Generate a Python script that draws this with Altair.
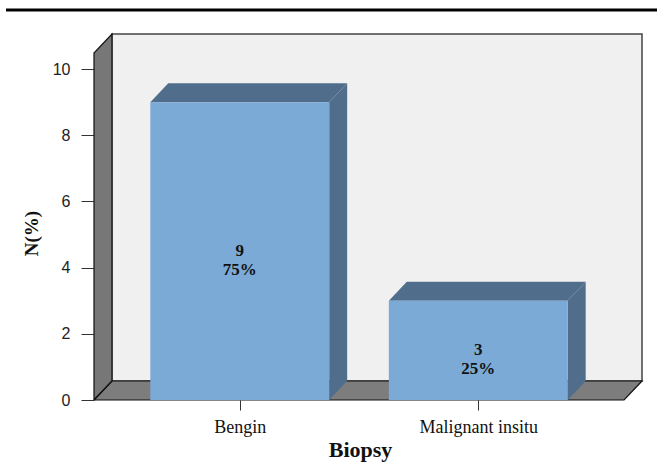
import altair as alt
import pandas as pd

# ---- data ----
categories = ["Bengin", "Malignant insitu"]
counts = [9, 3]
percents = ["75%", "25%"]
y_ticks = [0, 2, 4, 6, 8, 10]

# ---- 3D styling constants (in data units) ----
BAR_HALF = 0.375
DX = 0.0753
DY = 0.574
X_LO = 0.389
X_HI = 2.611
Y_TOP = 11.06

SERIF = "Liberation Serif, Times New Roman, serif"

pos = [i + 1 for i in range(len(categories))]

wall = pd.DataFrame({"x": [X_LO + DX], "x2": [X_HI + DX], "y": [DY], "y2": [Y_TOP]})
floor = pd.DataFrame({"g": ["f"] * 4, "x": [X_LO, X_LO + DX, X_HI, X_HI + DX],
                      "y": [0, 0, 0, DY], "y2": [0, DY, DY, DY]})
left = pd.DataFrame({"g": ["l"] * 2, "x": [X_LO, X_LO + DX], "y": [0, DY],
                     "y2": [Y_TOP - DY, Y_TOP]})

side_rows, top_rows, front_rows, text_rows = [], [], [], []
for c, v, p, cat in zip(pos, counts, percents, categories):
    side_rows += [
        {"g": cat, "x": c + BAR_HALF, "y": 0, "y2": v},
        {"g": cat, "x": c + BAR_HALF + DX, "y": DY, "y2": v + DY},
    ]
    top_rows += [
        {"g": cat, "x": c - BAR_HALF, "y": v, "y2": v},
        {"g": cat, "x": c - BAR_HALF + DX, "y": v, "y2": v + DY},
        {"g": cat, "x": c + BAR_HALF, "y": v, "y2": v + DY},
        {"g": cat, "x": c + BAR_HALF + DX, "y": v + DY, "y2": v + DY},
    ]
    front_rows.append({"g": cat, "x": c - BAR_HALF, "x2": c + BAR_HALF, "y": 0, "y2": v})
    text_rows.append({"x": c, "y": v / 2, "label": f"{v}\n{p}"})

side = pd.DataFrame(side_rows)
top = pd.DataFrame(top_rows)
front = pd.DataFrame(front_rows)
texts = pd.DataFrame(text_rows)

# outline of floor and left wall as closed polylines
floor_outline = pd.DataFrame({
    "g": ["f"] * 5, "i": [0, 1, 2, 3, 4],
    "x": [X_LO, X_LO + DX, X_HI + DX, X_HI, X_LO],
    "y": [0, DY, DY, 0, 0]})
left_outline = pd.DataFrame({
    "g": ["l"] * 5, "i": [0, 1, 2, 3, 4],
    "x": [X_LO, X_LO, X_LO + DX, X_LO + DX, X_LO],
    "y": [0, Y_TOP - DY, Y_TOP, DY, 0]})

label_expr = " : ".join(
    [f"datum.value == {c} ? '{cat}'" for c, cat in zip(pos[:-1], categories[:-1])]
    + [f"'{categories[-1]}'"]
)

xscale = alt.Scale(domain=[X_LO, X_HI + DX], nice=False, zero=False)
yscale = alt.Scale(domain=[0, Y_TOP], nice=False, zero=True)

xaxis = alt.Axis(values=pos, labelExpr=label_expr, title="Biopsy",
                 tickSize=10, tickColor="#333", domain=False, grid=False,
                 labelFont=SERIF, labelFontSize=18, labelColor="#111",
                 labelBaseline="alphabetic", labelPadding=22, labelFlush=False,
                 titleFont=SERIF, titleFontSize=22, titleFontWeight="bold",
                 titleColor="#111", titleX=266, titleY=56, titleBaseline="alphabetic",
                 titleAlign="center")
yaxis = alt.Axis(values=y_ticks, title="N(%)", tickSize=13, tickColor="#333",
                 domain=False, grid=False, labelPadding=11,
                 labelFont="Liberation Sans", labelFontSize=16, labelColor="#222",
                 titleFont=SERIF, titleFontSize=19, titleFontWeight="bold",
                 titleColor="#111", titleAngle=270, titleX=-63, titleY=199,
                 titleAlign="center", titleBaseline="middle")

X = alt.X("x:Q", scale=xscale, axis=xaxis)
Y = alt.Y("y:Q", scale=yscale, axis=yaxis)

wall_l = alt.Chart(wall).mark_rect(fill="#f0f0f0", stroke="#444", strokeWidth=1.5).encode(
    x=X, x2="x2:Q", y=Y, y2="y2:Q")
floor_l = alt.Chart(floor).mark_area(color="#7d7d7d").encode(
    x=X, y=Y, y2="y2:Q", detail="g:N")
left_l = alt.Chart(left).mark_area(color="#777777").encode(
    x=X, y=Y, y2="y2:Q", detail="g:N")
floor_o = alt.Chart(floor_outline).mark_line(color="#111", strokeWidth=1.2).encode(
    x=X, y=Y, detail="g:N", order="i:Q")
left_o = alt.Chart(left_outline).mark_line(color="#111", strokeWidth=1.2).encode(
    x=X, y=Y, detail="g:N", order="i:Q")
side_l = alt.Chart(side).mark_area(color="#506e8c").encode(
    x=X, y=Y, y2="y2:Q", detail="g:N")
top_l = alt.Chart(top).mark_area(color="#506e8c").encode(
    x=X, y=Y, y2="y2:Q", detail="g:N")
front_l = alt.Chart(front).mark_rect(fill="#7baad6").encode(
    x=X, x2="x2:Q", y=Y, y2="y2:Q")
text_l = alt.Chart(texts).mark_text(lineBreak="\n", lineHeight=19, font=SERIF,
                                    fontSize=17, fontWeight="bold", color="#111",
                                    baseline="middle", align="center").encode(
    x=X, y=Y, text="label:N")
rule_l = alt.Chart(pd.DataFrame({"a": [0]})).mark_rule(color="black", strokeWidth=3).encode(
    x=alt.value(-88), x2=alt.value(563), y=alt.value(-24))

chart = alt.layer(wall_l, floor_l, left_l, floor_o, left_o, side_l, top_l, front_l,
                  text_l, rule_l).properties(
    width=548, height=366,
    autosize=alt.AutoSizeParams(type="none"),
    padding={"left": 94, "top": 34, "right": 15, "bottom": 62},
    background="white",
).configure_view(stroke=None)

chart.save("out.html", embed_options={"renderer": "svg", "actions": False})
